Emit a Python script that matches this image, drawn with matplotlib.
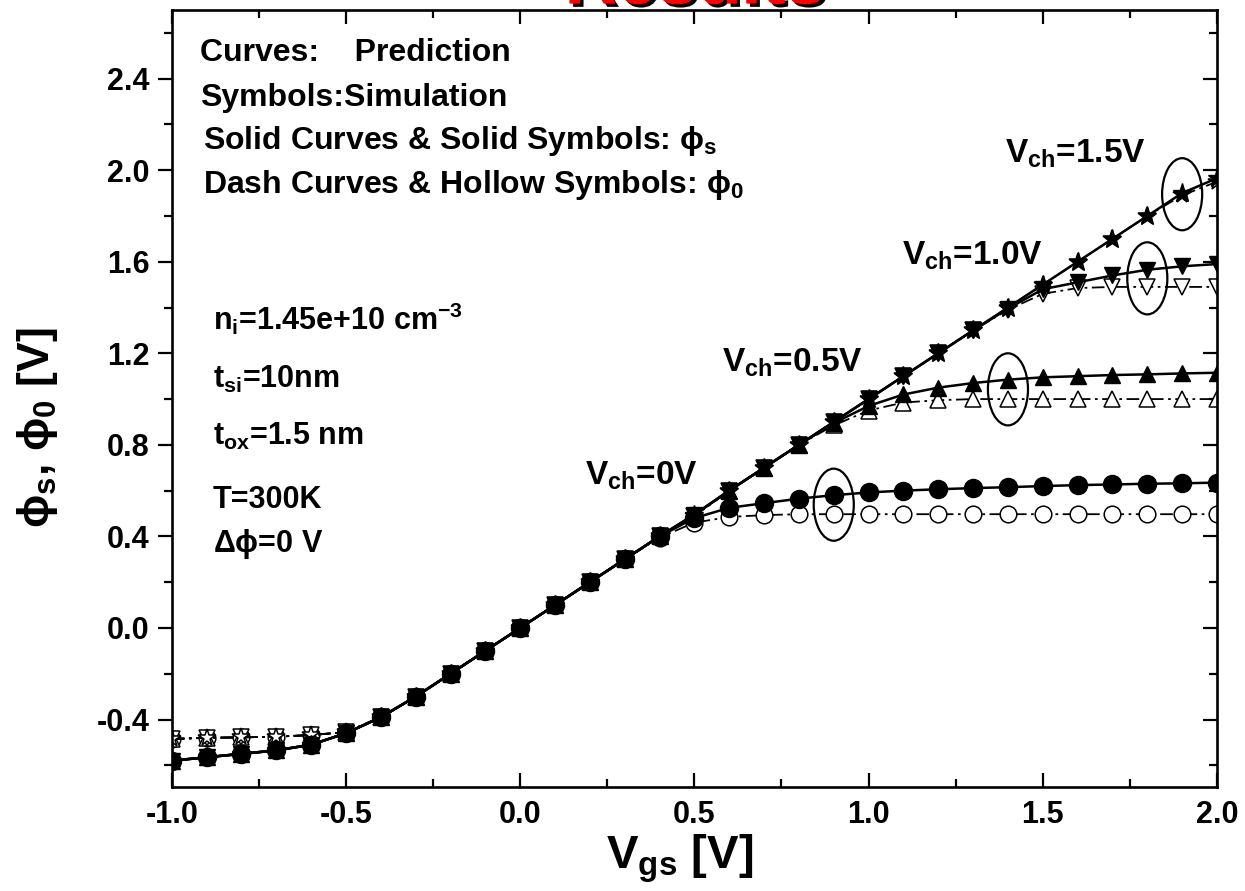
import matplotlib
matplotlib.use("Agg")
import matplotlib.pyplot as plt
import matplotlib.patheffects as pe
from matplotlib.patches import Ellipse
from matplotlib.ticker import MultipleLocator, FormatStrFormatter
import numpy as np

plt.rcParams['font.family'] = ['Liberation Sans', 'DejaVu Sans']
plt.rcParams['font.weight'] = 'bold'
plt.rcParams['mathtext.fontset'] = 'custom'
plt.rcParams['mathtext.rm'] = 'Liberation Sans:bold'
plt.rcParams['mathtext.it'] = 'Liberation Sans:bold'
plt.rcParams['mathtext.bf'] = 'Liberation Sans:bold'
plt.rcParams['mathtext.sf'] = 'Liberation Sans:bold'
plt.rcParams['mathtext.fallback'] = 'stixsans'

# gate voltage grid of the simulation symbols
vgs = np.round(np.arange(-1.0, 2.01, 0.1), 1)

# Vch = 1.5 V (phi_s solid, phi_0 hollow)
phi_s_15 = [-0.58, -0.565, -0.55, -0.535, -0.51, -0.46, -0.39, -0.30, -0.20, -0.10,
            0.00, 0.10, 0.20, 0.30, 0.40, 0.495, 0.60, 0.70, 0.80, 0.90,
            1.00, 1.10, 1.20, 1.30, 1.40, 1.50, 1.60, 1.70, 1.80, 1.90, 1.965]
phi_0_15 = [-0.485, -0.48, -0.478, -0.475, -0.468, -0.455, -0.39, -0.30, -0.20, -0.10,
            0.00, 0.10, 0.20, 0.30, 0.40, 0.49, 0.60, 0.70, 0.80, 0.90,
            1.00, 1.10, 1.20, 1.30, 1.40, 1.50, 1.60, 1.70, 1.80, 1.89, 1.95]
# Vch = 1.0 V
phi_s_10 = phi_s_15[:24] + [1.395, 1.48, 1.51, 1.54, 1.565, 1.58, 1.59]
phi_0_10 = phi_0_15[:24] + [1.39, 1.46, 1.485, 1.49, 1.49, 1.49, 1.49]
# Vch = 0.5 V
phi_s_05 = phi_s_15[:19] + [0.895, 0.97, 1.02, 1.05, 1.07, 1.085, 1.095, 1.10,
                            1.105, 1.108, 1.112, 1.115]
phi_0_05 = phi_0_15[:19] + [0.885, 0.95, 0.985, 0.995, 1.0, 1.0, 1.0, 1.0,
                            1.0, 1.0, 1.0, 1.0]
# Vch = 0 V
phi_s_00 = phi_s_15[:15] + [0.48, 0.525, 0.545, 0.565, 0.58, 0.592, 0.60, 0.606,
                            0.611, 0.615, 0.62, 0.624, 0.627, 0.63, 0.632, 0.635]
phi_0_00 = phi_0_15[:14] + [0.395, 0.46, 0.485, 0.493, 0.497, 0.497, 0.497, 0.497,
                            0.497, 0.497, 0.497, 0.497, 0.497, 0.497, 0.497, 0.497, 0.497]

# Vgs where each pair of symbols is circled
circled_vgs = [0.9, 1.4, 1.8, 1.9]

series = [
    ('o', 13, phi_s_00, phi_0_00),
    ('^', 12, phi_s_05, phi_0_05),
    ('v', 12, phi_s_10, phi_0_10),
    ('*', 14, phi_s_15, phi_0_15),
]

fig = plt.figure(figsize=(12.45, 8.91), dpi=100)
ax = fig.add_axes([0.138, 0.1167, 0.8395, 0.8721])

dash = (0, (7, 2.5, 1.5, 2.5))
for (mk, ms, ps, p0), cv in zip(series, circled_vgs):
    ax.plot(vgs, p0, color='black', lw=1.3, linestyle=dash,
            marker=mk, ms=ms * 0.92, mfc='white', mec='black', mew=1.1, zorder=2)
    ax.plot(vgs, ps, color='black', lw=1.8, linestyle='-',
            marker=mk, ms=ms, mfc='black', mec='black', zorder=3)
    i = int(np.argmin(np.abs(vgs - cv)))
    cy = 0.5 * (ps[i] + p0[i])
    ax.add_patch(Ellipse((vgs[i], cy), width=0.115, height=0.315,
                         fill=False, ec='black', lw=1.6, zorder=4))

ax.set_xlim(-1.0, 2.0)
ax.set_ylim(-0.695, 2.70)
ax.xaxis.set_major_locator(MultipleLocator(0.5))
ax.xaxis.set_minor_locator(MultipleLocator(0.25))
ax.set_yticks([-0.4, 0.0, 0.4, 0.8, 1.2, 1.6, 2.0, 2.4])
ax.yaxis.set_minor_locator(MultipleLocator(0.2))
ax.xaxis.set_major_formatter(FormatStrFormatter('%.1f'))
ax.yaxis.set_major_formatter(FormatStrFormatter('%.1f'))

for s in ax.spines.values():
    s.set_linewidth(1.9)
ax.tick_params(axis='both', which='major', labelsize=22, width=1.6, length=10)
ax.tick_params(axis='both', which='minor', width=1.6, length=5.5)
ax.tick_params(axis='x', which='both', direction='in', top=True, pad=9)
ax.tick_params(axis='y', which='both', direction='out', left=True, right=True, pad=6)
# right-hand ticks point into the box
for t in ax.yaxis.get_ticklines(minor=False)[1::2] + ax.yaxis.get_ticklines(minor=True)[1::2]:
    t.set_marker(matplotlib.lines.TICKLEFT)
for lab in ax.get_xticklabels() + ax.get_yticklabels():
    lab.set_fontweight('bold')

fig.text(0.546, 0.025, r'V$_{gs}$ [V]', fontsize=34, fontweight='bold', ha='center', va='baseline')
fig.text(0.030, 0.52, r'$\mathrm{\phi}_s$, $\mathrm{\phi}_0$ [V]', fontsize=32,
         fontweight='bold', rotation=90, ha='center', va='center')

# red title, mostly cut off at the top edge as in the source figure
fig.text(0.5585, 0.9962, 'Results', fontsize=52, fontweight='bold', color='red',
         ha='center', va='baseline',
         path_effects=[pe.withSimplePatchShadow(offset=(2.5, -2.5), shadow_rgbFace='black', alpha=1.0),
                       pe.Normal()])

tk = dict(transform=ax.transAxes, fontsize=23, fontweight='bold', va='baseline', ha='left')
ax.text(0.027, 0.9344, 'Curves:    Prediction', **tk)
ax.text(0.027, 0.8764, 'Symbols:Simulation', **tk)
ax.text(0.030, 0.8211, r'Solid Curves & Solid Symbols: $\mathrm{\phi}_s$', **tk)
ax.text(0.030, 0.7645, r'Dash Curves & Hollow Symbols: $\mathrm{\phi}_0$', **tk)

pk = dict(transform=ax.transAxes, fontsize=22, fontweight='bold', va='baseline', ha='left')
ax.text(0.039, (787 - 330) / 777, r'n$_i$=1.45e+10 cm$^{-3}$', **pk)
ax.text(0.039, (787 - 388) / 777, r't$_{si}$=10nm', **pk)
ax.text(0.039, (787 - 445) / 777, r't$_{ox}$=1.5 nm', **pk)
ax.text(0.039, (787 - 508) / 777, 'T=300K', **pk)
ax.text(0.039, (787 - 552) / 777, r'$\mathrm{\Delta\phi}$=0 V', **pk)

vk = dict(fontsize=24, fontweight='bold', va='baseline', ha='left', zorder=5)
ax.text(1.391, 2.033, r'V$_{ch}$=1.5V', **vk)
ax.text(1.096, 1.587, r'V$_{ch}$=1.0V', **vk)
ax.text(0.579, 1.119, r'V$_{ch}$=0.5V', **vk)
ax.text(0.186, 0.625, r'V$_{ch}$=0V', **vk)

fig.savefig('out.png', dpi=100)
